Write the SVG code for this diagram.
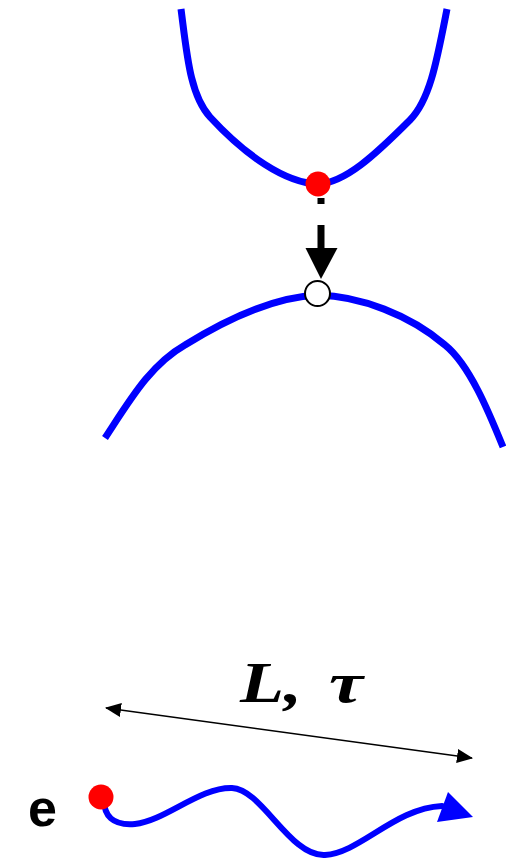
<svg xmlns="http://www.w3.org/2000/svg" width="506" height="860" viewBox="0 0 506 860">
<style>
.curve{fill:none;stroke:#0000ff;stroke-width:7}
.wave{fill:none;stroke:#0000ff;stroke-width:6;stroke-linecap:round}
.thin{fill:none;stroke:#000;stroke-width:1.6}
.lbl{font-family:"Liberation Serif",serif;font-weight:bold;font-style:italic;font-size:58px}
</style>
<defs>
<marker id="ah" viewBox="0 0 16 14" refX="15" refY="7" markerWidth="16" markerHeight="14" markerUnits="userSpaceOnUse" orient="auto-start-reverse">
<path d="M0,0 L16,7 L0,14 Z" fill="#000"/>
</marker>
</defs>
<g id="upper-curve">
<path class="curve" d="M181,9 C187,55 190,95 210,117 C245,155 285,183 318,184 C345,183 375,155 410,120 C430,100 437,60 447,9"/>
</g>
<g id="lower-curve">
<path class="curve" d="M105,438 C130,400 150,365 185,345 C230,317 275,297 318,295 C360,296 410,315 445,345 C470,365 490,415 503,447"/>
</g>
<g id="connectors">
<path d="M321,198 L321,248" fill="none" stroke="#000" stroke-width="7" stroke-dasharray="6 21 30"/>
<polygon points="305.5,248 337.5,248 321,279" fill="#000"/>
<line class="thin" x1="106" y1="708" x2="472" y2="758" marker-start="url(#ah)" marker-end="url(#ah)"/>
</g>
<g id="red-dot-top">
<circle cx="318" cy="184" r="12.5" fill="#ff0000"/>
</g>
<g id="open-dot">
<circle cx="317.5" cy="293.5" r="12.5" fill="#fff" stroke="#000" stroke-width="2"/>
</g>
<g id="label-L-tau">
<text class="lbl" x="240" y="702" textLength="62" lengthAdjust="spacingAndGlyphs">L,</text>
<text class="lbl" x="329" y="702" textLength="34" lengthAdjust="spacingAndGlyphs">τ</text>
</g>
<g id="electron">
<text x="28" y="826" font-family="Liberation Sans, Arial, sans-serif" font-weight="bold" font-size="52">e</text>
<path class="wave" d="M104,800 C104,815 112,826 135,824 C165,821 200,787 232,788 C262,789 290,857 325,855 C360,853 395,808 442,806"/>
<polygon points="437,822 448,792 473,817" fill="#0000ff"/>
<circle cx="101" cy="797" r="12.5" fill="#ff0000"/>
</g>
</svg>
